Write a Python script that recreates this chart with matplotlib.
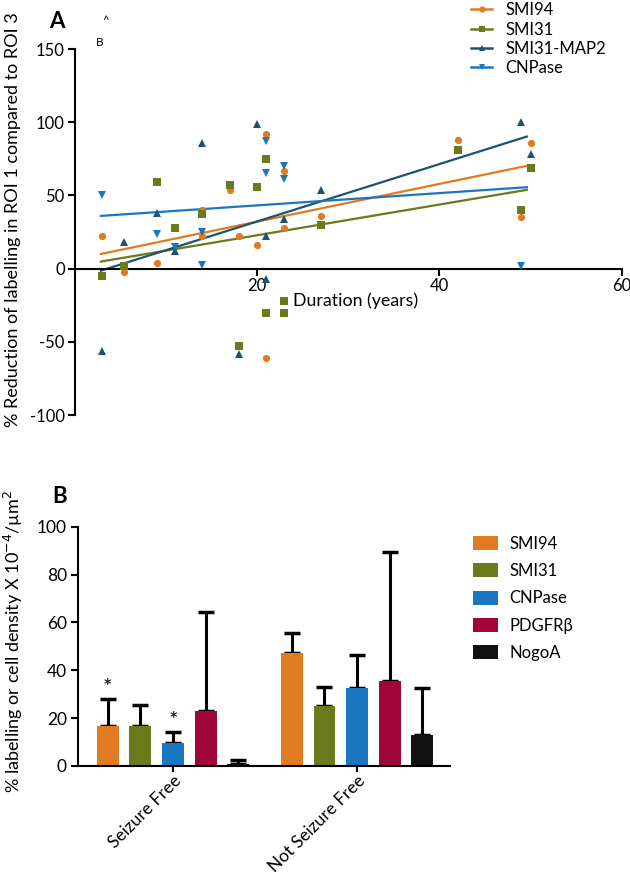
import matplotlib
matplotlib.use("Agg")
import matplotlib.pyplot as plt
from matplotlib.lines import Line2D
from matplotlib.patches import Patch
import numpy as np

plt.rcParams['font.family'] = ['Lato', 'DejaVu Sans']
plt.rcParams['axes.unicode_minus'] = False

# ---------------- Panel A data ----------------
smi94_x = [3, 5.4, 9, 11, 14, 14, 17, 18, 20, 21, 21, 23, 23, 27, 42, 49, 50]
smi94_y = [22, -2, 4, 28, 40, 22, 54, 22, 16, 92, -61, 67, 28, 36, 88, 35, 86]
smi31_x = [3, 5.4, 9, 11, 14, 17, 18, 20, 21, 21, 23, 23, 27, 42, 49, 50]
smi31_y = [-5, 2, 59, 28, 37, 57, -53, 56, 75, -30, -22, -30, 30, 81, 40, 69]
map2_x = [3, 5.4, 9, 11, 14, 18, 20, 21, 21, 23, 27, 49, 50]
map2_y = [-56, 18, 38, 12, 86, -58, 99, 22, -7, 34, 54, 100, 78]
cnp_x = [3, 9, 11, 14, 14, 21, 21, 23, 23, 49]
cnp_y = [50, 23.5, 14.5, 25, 2.5, 87, 65, 70, 61, 2]
fit_x = [2.9, 49.6]
fit_smi94 = [10, 70.2]
fit_smi31 = [4.8, 53.8]
fit_map2 = [-1.4, 90.2]
fit_cnp = [36, 55.6]
series_a = ['SMI94', 'SMI31', 'SMI31-MAP2', 'CNPase']

# ---------------- Panel B data ----------------
groups = ['Seizure Free', 'Not Seizure Free']
markers_b = ['SMI94', 'SMI31', 'CNPase', 'PDGFRβ', 'NogoA']
means_sf = [16.8, 16.8, 9.5, 22.9, 0.7]
err_sf = [11.3, 8.6, 4.9, 41.6, 1.6]
means_nsf = [47.4, 24.9, 32.4, 35.6, 12.9]
err_nsf = [8.1, 8.3, 13.8, 53.7, 19.8]
star_marked = [0, 2]  # indices of starred bars in Seizure Free

c_or = '#E07B22'
c_gr = '#6A7A1C'
c_dk = '#1C5470'
c_bl = '#1B76C2'
c_cr = '#A1063A'
c_bk = '#111111'

fig = plt.figure(figsize=(6.3, 8.75), dpi=100)

# ---------- Panel A ----------
axA = fig.add_axes([74.5/630, 1-415/875, (621.7-74.5)/630, (415-49)/875])
specs = [
    (smi94_x, smi94_y, fit_smi94, c_or, 'o', 5.2),
    (smi31_x, smi31_y, fit_smi31, c_gr, 's', 5.2),
    (map2_x, map2_y, fit_map2, c_dk, '^', 5.2),
    (cnp_x, cnp_y, fit_cnp, c_bl, 'v', 5.2),
]
handles = []
for (xs, ys, fy, col, mk, ms), name in zip(specs, series_a):
    axA.plot(fit_x, fy, color=col, lw=1.6, zorder=2)
    axA.plot(xs, ys, ls='none', marker=mk, color=col, ms=ms, mew=0, zorder=3)
    handles.append(Line2D([0], [0], color=col, lw=1.8, marker=mk, ms=4.5, mew=0))

axA.set_xlim(0, 60)
axA.set_ylim(-100, 150)
axA.spines['top'].set_visible(False)
axA.spines['right'].set_visible(False)
axA.spines['bottom'].set_position(('data', 0))
for s in ['left', 'bottom']:
    axA.spines[s].set_linewidth(1.5)
axA.set_xticks([20, 40, 60])
axA.set_yticks([-100, -50, 0, 50, 100, 150])
axA.tick_params(axis='both', direction='out', length=5, width=1.5, labelsize=12, pad=2)
fig.text(13/630, 1-220/875, '% Reduction of labelling in ROI 1 compared to ROI 3',
         fontsize=13, rotation=90, ha='center', va='center')
axA.text(24, -22, 'Duration (years)', fontsize=12.8, va='center', ha='left')
fig.text(56.7/630, 1-21.7/875, 'A', fontsize=16, fontweight='bold', ha='center', va='center')
fig.text(106/630, 1-21/875, '^', fontsize=8, ha='center', va='center')
fig.text(100/630, 1-42.7/875, 'B', fontsize=8.5, ha='center', va='center')

fig.legend(handles, series_a, loc='upper left', bbox_to_anchor=(464/630, 1.005),
           frameon=False, fontsize=12, handlelength=1.3, handletextpad=0.8,
           labelspacing=0.2, borderaxespad=0)

# ---------- Panel B ----------
axB = fig.add_axes([78/630, 1-766/875, (450-78)/630, (766-526.7)/875])
colors_b = [c_or, c_gr, c_bl, c_cr, c_bk]
offsets = (np.arange(len(markers_b)) - 2) * 0.177
width = 0.119
gx = np.arange(len(groups))
for i, (name, col) in enumerate(zip(markers_b, colors_b)):
    xs = gx + offsets[i]
    vals = [means_sf[i], means_nsf[i]]
    errs = [err_sf[i], err_nsf[i]]
    axB.bar(xs, vals, width=width, color=col, edgecolor='none', zorder=2, label=name)
    axB.errorbar(xs, vals, yerr=[[0, 0], errs], fmt='none', ecolor='black',
                 elinewidth=2.2, capsize=6, capthick=2.5, zorder=1)
for i in star_marked:
    axB.text(gx[0] + offsets[i], means_sf[i] + err_sf[i] + 4.5, '*', fontsize=16,
             ha='center', va='center')

axB.set_xlim(-0.516, 1.505)
axB.set_ylim(0, 100)
axB.spines['top'].set_visible(False)
axB.spines['right'].set_visible(False)
for s in ['left', 'bottom']:
    axB.spines[s].set_linewidth(1.5)
axB.set_yticks([0, 20, 40, 60, 80, 100])
axB.set_xticks(gx)
axB.set_xticklabels(groups, rotation=45, ha='right', va='top', rotation_mode='anchor',
                    fontsize=10.8)
axB.tick_params(axis='both', direction='out', length=5, width=1.5, labelsize=12.5, pad=3)
axB.tick_params(axis='x', pad=0.5, length=4)
fig.text(13/630, 1-641/875, '% labelling or cell density X 10$^{-4}$/µm$^{2}$',
         fontsize=13, rotation=90, ha='center', va='center')
fig.text(60/630, 1-496.7/875, 'B', fontsize=16, fontweight='bold', ha='center', va='center')

hb = [Patch(facecolor=c, edgecolor='none') for c in colors_b]
fig.legend(hb, markers_b, loc='upper left', bbox_to_anchor=(466/630, 1-529/875),
           frameon=False, fontsize=12, handlelength=1.5, handleheight=0.9,
           handletextpad=0.7, labelspacing=0.68, borderaxespad=0)

fig.savefig('out.png', dpi=100)
